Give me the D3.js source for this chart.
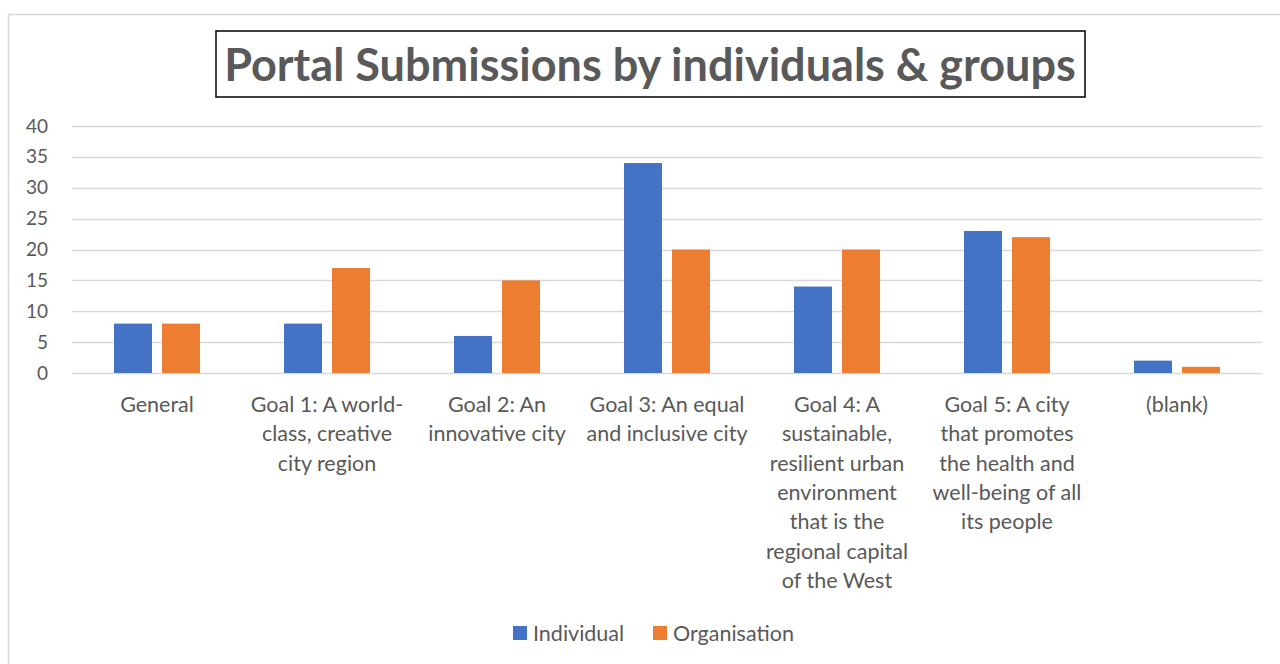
<!DOCTYPE html>
<html>
<head>
<meta charset="utf-8">
<script src="https://cdn.jsdelivr.net/npm/d3@7"></script>
<style>
  body { margin: 0; background: #fff; }
  text { font-family: Lato, "Open Sans", sans-serif; }
</style>
</head>
<body>
<script>
// 資料
const categories = ["General", "Goal 1", "Goal 2", "Goal 3", "Goal 4", "Goal 5", "(blank)"];
const tickLabels = [
  ["General"],
  ["Goal 1: A world-", "class, creative", "city region"],
  ["Goal 2: An", "innovative city"],
  ["Goal 3: An equal", "and inclusive city"],
  ["Goal 4: A", "sustainable,", "resilient urban", "environment", "that is the", "regional capital", "of the West"],
  ["Goal 5: A city", "that promotes", "the health and", "well-being of all", "its people"],
  ["(blank)"]
];
const individual = [8, 8, 6, 34, 14, 23, 2];
const organisation = [8, 17, 15, 20, 20, 22, 1];
const seriesNames = ["Individual", "Organisation"];
const yTicks = [0, 5, 10, 15, 20, 25, 30, 35, 40];

const colors = ["#4472C4", "#ED7D31"];
const width = 1280, height = 664;
const margin = { left: 72, right: 18, top: 126, bottom: 291 };

const svg = d3.select("body").append("svg")
  .attr("width", width)
  .attr("height", height);

// 外框
svg.append("rect")
  .attr("x", 8.5).attr("y", 14.5)
  .attr("width", 1290).attr("height", 700)
  .attr("fill", "none")
  .attr("stroke", "#d9d9d9")
  .attr("stroke-width", 1.5);

const x = d3.scaleBand()
  .domain(categories)
  .range([margin.left, width - margin.right]);

const xInner = d3.scaleBand()
  .domain(seriesNames)
  .range([0, x.bandwidth()])
  .paddingInner(0.208)
  .paddingOuter(0.875);

const y = d3.scaleLinear()
  .domain([0, 40])
  .range([height - margin.bottom, margin.top]);

// 格線
svg.append("g")
  .selectAll("line")
  .data(yTicks)
  .enter()
  .append("line")
  .attr("x1", margin.left)
  .attr("x2", width - margin.right)
  .attr("y1", d => Math.round(y(d)) + 0.5)
  .attr("y2", d => Math.round(y(d)) + 0.5)
  .attr("stroke", "#d9d9d9")
  .attr("stroke-width", 1.5);

// y 軸標籤
const yAxis = svg.append("g")
  .attr("transform", `translate(${margin.left}, 0)`)
  .call(d3.axisLeft(y).tickValues(yTicks).tickSize(0).tickPadding(24));
yAxis.select(".domain").remove();
yAxis.selectAll("text")
  .style("font-size", "19px")
  .style("font-family", "Lato, sans-serif")
  .attr("fill", "#595959");

// 長條
const data = categories.map((c, i) => ({
  cat: c,
  values: [
    { name: seriesNames[0], value: individual[i] },
    { name: seriesNames[1], value: organisation[i] }
  ]
}));

const groups = svg.selectAll(".cat")
  .data(data)
  .enter()
  .append("g")
  .attr("transform", d => `translate(${x(d.cat)}, 0)`);

groups.selectAll("rect")
  .data(d => d.values)
  .enter()
  .append("rect")
  .attr("x", d => xInner(d.name))
  .attr("width", xInner.bandwidth())
  .attr("y", d => y(d.value))
  .attr("height", d => y(0) - y(d.value))
  .attr("fill", (d, i) => colors[i]);

// x 軸標籤
const xLabels = svg.append("g");
categories.forEach((c, i) => {
  const t = xLabels.append("text")
    .attr("x", x(c) + x.bandwidth() / 2)
    .attr("y", 412)
    .attr("text-anchor", "middle")
    .style("font-size", "21.5px")
    .attr("fill", "#595959");
  tickLabels[i].forEach((line, j) => {
    t.append("tspan")
      .attr("x", x(c) + x.bandwidth() / 2)
      .attr("dy", j === 0 ? 0 : 29.3)
      .text(line);
  });
});

// 標題
svg.append("rect")
  .attr("x", 216).attr("y", 31)
  .attr("width", 869).attr("height", 66)
  .attr("fill", "#fff")
  .attr("stroke", "#000")
  .attr("stroke-width", 1.5);
const title = svg.append("text")
  .attr("x", 650)
  .attr("y", 81)
  .attr("text-anchor", "middle")
  .style("font-size", "40px")
  .style("font-weight", "bold")
  .attr("fill", "#595959")
  .text("Portal Submissions by individuals & groups");
// 調整標題寬度
const tw = title.node().getComputedTextLength();
title.style("font-size", (40 * 852 / tw) + "px");

// 圖例
const legend = svg.append("g").attr("transform", "translate(513, 626)");
const legendX = [0, 140];
seriesNames.forEach((name, i) => {
  legend.append("rect")
    .attr("x", legendX[i])
    .attr("y", 0)
    .attr("width", 14)
    .attr("height", 14)
    .attr("fill", colors[i]);
  legend.append("text")
    .attr("x", legendX[i] + 20)
    .attr("y", 15)
    .style("font-size", "21.5px")
    .attr("fill", "#595959")
    .text(name);
});
</script>
</body>
</html>
